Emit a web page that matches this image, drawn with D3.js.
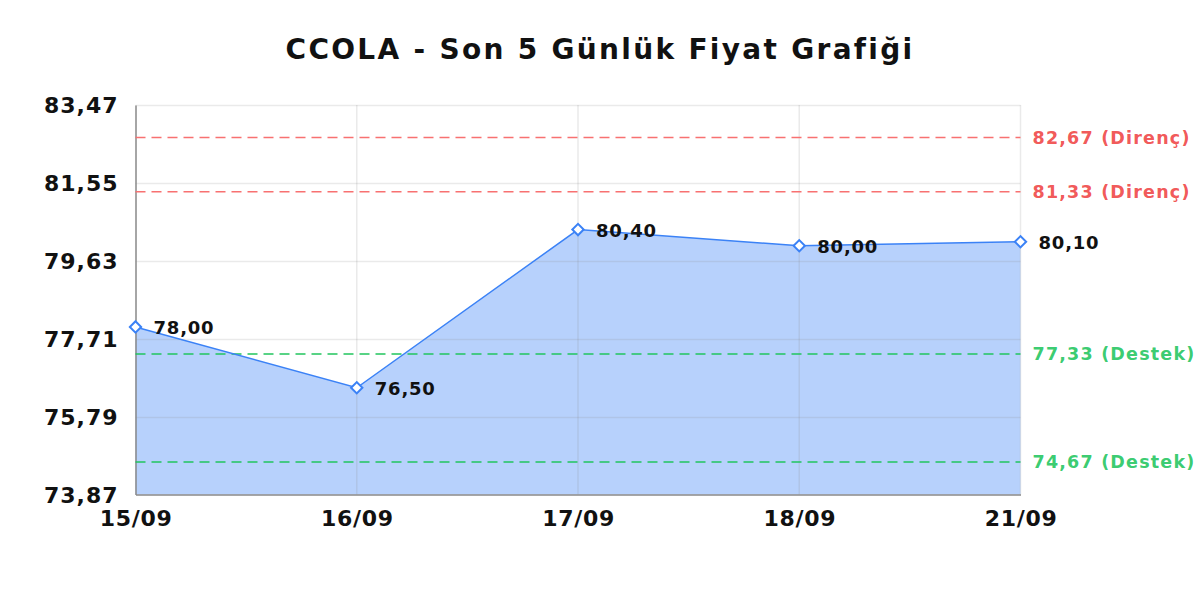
<!DOCTYPE html>
<html><head><meta charset="utf-8">
<script src="https://cdn.jsdelivr.net/npm/d3@7"></script>
<style>body{margin:0;background:#fff}svg{display:block;font-family:"DejaVu Sans",sans-serif}</style>
</head><body>
<svg id="c" width="1200" height="600"></svg>
<script>
const title = "CCOLA - Son 5 Günlük Fiyat Grafiği";
const dates = ["15/09","16/09","17/09","18/09","21/09"];
const prices = [78.00, 76.50, 80.40, 80.00, 80.10];
const yTicks = [73.87, 75.79, 77.71, 79.63, 81.55, 83.47];
const resistance = [82.67, 81.33];
const support = [77.33, 74.67];
const yMin = 73.87, yMax = 83.47;

const fmt = v => v.toFixed(2).replace(".", ",");
const svg = d3.select("#c");
const m = {l:135.5, r:1020.5, t:105, b:494.5};
const x = d3.scalePoint().domain(dates).range([m.l, m.r]);
const y = d3.scaleLinear().domain([yMin, yMax]).range([m.b, m.t]);

svg.append("text").attr("x",600).attr("y",59).attr("text-anchor","middle")
  .attr("font-size",28).attr("font-weight","bold").attr("fill","#111")
  .attr("letter-spacing","2.3px").text(title);

// area
const pts = dates.map((d,i)=>({d, v:prices[i]}));
svg.append("path").datum(pts)
  .attr("d", d3.area().x(p=>x(p.d)).y0(m.b).y1(p=>y(p.v)))
  .attr("fill","#3b82f6").attr("fill-opacity",0.37);

// grid
const g = svg.append("g");
g.selectAll(".hg").data(yTicks.slice(1)).join("line")
  .attr("x1",m.l).attr("x2",m.r).attr("y1",d=>Math.round(y(d))+0.5).attr("y2",d=>Math.round(y(d))+0.5)
  .attr("stroke","#888").attr("stroke-opacity",0.18).attr("stroke-width",1.5);
g.selectAll(".vg").data(dates.slice(1)).join("line")
  .attr("y1",m.t).attr("y2",m.b).attr("x1",d=>x(d)).attr("x2",d=>x(d))
  .attr("stroke","#888").attr("stroke-opacity",0.18).attr("stroke-width",1.5);

// axes
const yAxis = svg.append("g").attr("transform",`translate(${m.l},0)`)
  .call(d3.axisLeft(y).tickValues(yTicks).tickFormat(fmt).tickSize(0).tickPadding(17));
yAxis.select(".domain").attr("stroke","#888").attr("stroke-width",1.5);
yAxis.selectAll("text").attr("font-size",22).attr("font-weight","bold").attr("fill","#111")
  .attr("font-family","DejaVu Sans").attr("letter-spacing","1px").attr("dy","0.36em");
const xAxis = svg.append("g").attr("transform",`translate(0,${m.b})`)
  .call(d3.axisBottom(x).tickSize(0).tickPadding(16));
xAxis.select(".domain").attr("stroke","#888").attr("stroke-width",1.5);
xAxis.selectAll("text").attr("font-size",22).attr("font-weight","bold").attr("fill","#111")
  .attr("font-family","DejaVu Sans").attr("letter-spacing","0.7px");

// support / resistance
const lvls = resistance.map(v=>({v,t:"Direnç",c:"#f87171",lc:"#ef4444"}))
  .concat(support.map(v=>({v,t:"Destek",c:"#22c55e",lc:"#22c55e"})));
svg.selectAll(".lv").data(lvls).join("line")
  .attr("x1",m.l).attr("x2",m.r).attr("y1",d=>y(d.v)).attr("y2",d=>y(d.v))
  .attr("stroke",d=>d.c).attr("stroke-width",1.5).attr("stroke-dasharray","10,6");
svg.selectAll(".lt").data(lvls).join("text")
  .attr("x",m.r+12).attr("y",d=>y(d.v)).attr("dy","0.36em")
  .attr("font-size",17.5).attr("font-weight","bold").attr("fill",d=>d.lc).attr("fill-opacity",0.9)
  .attr("letter-spacing","1.2px")
  .text(d=>`${fmt(d.v)} (${d.t})`);

// line
svg.append("path").datum(pts)
  .attr("d", d3.line().x(p=>x(p.d)).y(p=>y(p.v)))
  .attr("fill","none").attr("stroke","#3b82f6").attr("stroke-width",1.5);

// markers
svg.selectAll(".mk").data(pts).join("path")
  .attr("transform",p=>`translate(${x(p.d)},${y(p.v)}) rotate(45)`)
  .attr("d","M-4,-4h8v8h-8z")
  .attr("fill","#fff").attr("stroke","#3b82f6").attr("stroke-width",2);

svg.selectAll(".vl").data(pts).join("text")
  .attr("x",p=>x(p.d)+18).attr("y",p=>y(p.v)+1).attr("dy","0.36em")
  .attr("font-size",18).attr("font-weight","bold").attr("fill","#111")
  .attr("letter-spacing","0.8px")
  .text(p=>fmt(p.v));
</script>
</body></html>
